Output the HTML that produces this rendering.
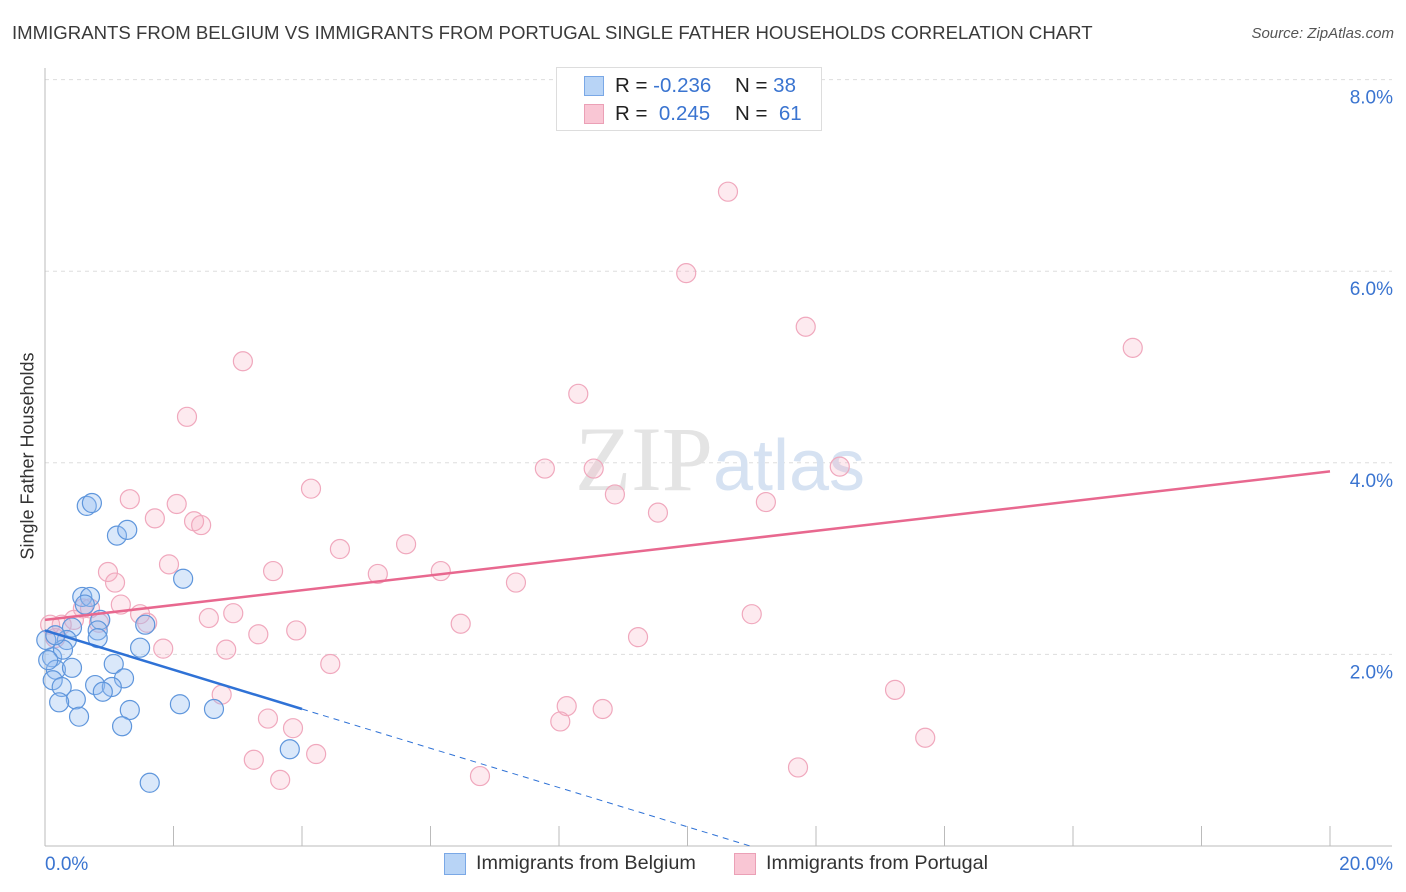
<!DOCTYPE html>
<html><head><meta charset="utf-8"><style>
body{margin:0;background:#fff;font-family:"Liberation Sans",sans-serif;}
#wrap{position:relative;width:1406px;height:892px;overflow:hidden;}
.t{position:absolute;white-space:nowrap;}
</style></head><body>
<div id="wrap">
<div class="t" style="left:12px;top:22px;font-size:18.6px;color:#3a3a3a;">IMMIGRANTS FROM BELGIUM VS IMMIGRANTS FROM PORTUGAL SINGLE FATHER HOUSEHOLDS CORRELATION CHART</div>
<div class="t" style="right:12px;top:25px;font-size:15px;color:#555;font-style:italic;">Source: ZipAtlas.com</div>
<div class="t" style="left:28px;top:456px;font-size:18px;color:#333;transform:translate(-50%,-50%) rotate(-90deg);">Single Father Households</div>
<svg id="svg" width="1406" height="892" style="position:absolute;left:0;top:0"></svg>
<div style="position:absolute;left:556px;top:67px;width:264px;height:62px;border:1px solid #ddd;background:#fff;font-size:20.5px;">
 <div style="position:absolute;left:27px;top:8px;width:18px;height:18px;background:#b8d4f6;border:1px solid #7aa8e6;"></div>
 <div class="t" style="left:58px;top:6px;color:#222;">R = <span style="color:#3a74d0">-0.236</span></div>
 <div class="t" style="left:178px;top:6px;color:#222;">N = <span style="color:#3a74d0">38</span></div>
 <div style="position:absolute;left:27px;top:36px;width:18px;height:18px;background:#f9c6d4;border:1px solid #eba0b6;"></div>
 <div class="t" style="left:58px;top:34px;color:#222;">R = &nbsp;<span style="color:#3a74d0">0.245</span></div>
 <div class="t" style="left:178px;top:34px;color:#222;">N = &nbsp;<span style="color:#3a74d0">61</span></div>
</div>
<div style="position:absolute;left:444px;top:853px;font-size:19.8px;color:#333;">
 <div style="position:absolute;left:0;top:0;width:20px;height:20px;background:#b8d4f6;border:1px solid #7aa8e6;"></div>
 <div class="t" style="left:32px;top:-1px;">Immigrants from Belgium</div></div>
<div style="position:absolute;left:734px;top:853px;font-size:19.8px;color:#333;">
 <div style="position:absolute;left:0;top:0;width:20px;height:20px;background:#f9c6d4;border:1px solid #eba0b6;"></div>
 <div class="t" style="left:32px;top:-1px;">Immigrants from Portugal</div></div>
</div>
<script>
const belgiumX=[0.65,0.73,1.12,1.28,2.15,0.58,0.70,0.62,0.86,0.42,0.82,0.34,1.56,0.82,0.11,0.28,1.48,0.17,1.07,0.42,0.12,0.26,0.78,1.23,1.04,0.90,0.48,0.22,2.10,2.63,1.32,0.53,1.20,3.81,1.63,0.05,0.02,0.16];
const belgiumY=[3.55,3.58,3.24,3.30,2.79,2.60,2.60,2.52,2.36,2.28,2.25,2.15,2.31,2.17,1.97,2.05,2.07,1.84,1.90,1.86,1.73,1.66,1.68,1.75,1.66,1.61,1.53,1.50,1.48,1.43,1.42,1.35,1.25,1.01,0.66,1.94,2.15,2.20];
const portugalX=[10.63,9.98,11.84,16.93,3.08,8.30,2.21,7.78,8.54,12.37,8.87,4.14,1.32,2.05,9.54,11.22,1.71,2.32,2.43,5.62,4.59,1.93,0.98,3.55,6.16,5.18,1.09,7.33,0.59,1.18,0.70,1.48,2.93,2.55,11.00,0.45,1.59,6.47,3.91,3.32,9.23,0.26,0.08,1.84,2.82,4.44,0.16,13.23,2.75,8.12,8.68,3.47,8.02,3.86,13.70,4.22,3.25,3.66,11.72,6.77,0.84];
const portugalY=[6.83,5.98,5.42,5.20,5.06,4.72,4.48,3.94,3.94,3.96,3.67,3.73,3.62,3.57,3.48,3.59,3.42,3.39,3.35,3.15,3.10,2.94,2.86,2.87,2.87,2.84,2.75,2.75,2.48,2.52,2.48,2.42,2.43,2.38,2.42,2.36,2.33,2.32,2.25,2.21,2.18,2.31,2.31,2.06,2.05,1.90,2.17,1.63,1.58,1.46,1.43,1.33,1.30,1.23,1.13,0.96,0.90,0.69,0.82,0.73,2.33];
const yTicks=[2,4,6,8];
const yTickLabels=["2.0%","4.0%","6.0%","8.0%"];
const xTicks=[0,2,4,6,8,10,12,14,16,18,20];
const belgiumTrend=[2.25,-0.205];
const portugalTrend=[2.36,0.0775];

const X=v=>45+v*64.25, Y=v=>846-v*95.8;
const svg=document.getElementById('svg');
const NS='http://www.w3.org/2000/svg';
function mk(tag,attrs){const e=document.createElementNS(NS,tag);for(const k in attrs)e.setAttribute(k,attrs[k]);svg.appendChild(e);return e;}
yTicks.forEach((t,i)=>{
 const g=mk('line',{x1:45,x2:1392,y1:Y(t),y2:Y(t),stroke:'#ddd','stroke-dasharray':'4,4'});
 
 
 const tx=mk('text',{x:1393,y:Y(t)+24,'text-anchor':'end','font-size':19,fill:'#3a74d0','font-family':'Liberation Sans, sans-serif'});
 tx.textContent=yTickLabels[i];
 
 
});
const ya=mk('line',{x1:45,x2:45,y1:68,y2:846,stroke:'#bbb'});


const xa=mk('line',{x1:45,x2:1392,y1:846,y2:846,stroke:'#bbb'});


xTicks.forEach(t=>{
 const l=mk('line',{x1:X(t),x2:X(t),y1:826,y2:846,stroke:'#bbb'});
 
 
});
const x0=mk('text',{x:45,y:870,'font-size':19,fill:'#3a74d0','font-family':'Liberation Sans, sans-serif'});x0.textContent='0.0%';


const x1=mk('text',{x:1393,y:870,'text-anchor':'end','font-size':19,fill:'#3a74d0','font-family':'Liberation Sans, sans-serif'});x1.textContent='20.0%';


const wm=mk('text',{x:720,y:490,'text-anchor':'middle','font-size':92,fill:'#e4e4e4','font-family':'Liberation Serif, serif'});
wm.innerHTML='ZIP<tspan font-family="Liberation Sans, sans-serif" font-size="72" fill="#d6e2f2">atlas</tspan>';


portugalX.forEach((x,i)=>{
 const c=mk('circle',{cx:X(x),cy:Y(portugalY[i]),r:9.5,fill:'rgba(246,170,192,0.25)',stroke:'#f0a8bd','stroke-width':1.2});
 
 
});
belgiumX.forEach((x,i)=>{
 const c=mk('circle',{cx:X(x),cy:Y(belgiumY[i]),r:9.5,fill:'rgba(150,190,240,0.35)',stroke:'#5f96dc','stroke-width':1.2});
 
 
});
const pl=mk('line',{x1:X(0),y1:Y(portugalTrend[0]),x2:X(20),y2:Y(portugalTrend[0]+20*portugalTrend[1]),stroke:'#e8688f','stroke-width':2.5});


const bl=mk('line',{x1:X(0),y1:Y(belgiumTrend[0]),x2:X(4),y2:Y(belgiumTrend[0]+4*belgiumTrend[1]),stroke:'#2f72d6','stroke-width':2.5});


const xEnd=-belgiumTrend[0]/belgiumTrend[1];
const bd=mk('line',{x1:X(4),y1:Y(belgiumTrend[0]+4*belgiumTrend[1]),x2:X(xEnd),y2:Y(0),stroke:'#2f72d6','stroke-width':1,'stroke-dasharray':'6,5'});


</script>
</body></html>
